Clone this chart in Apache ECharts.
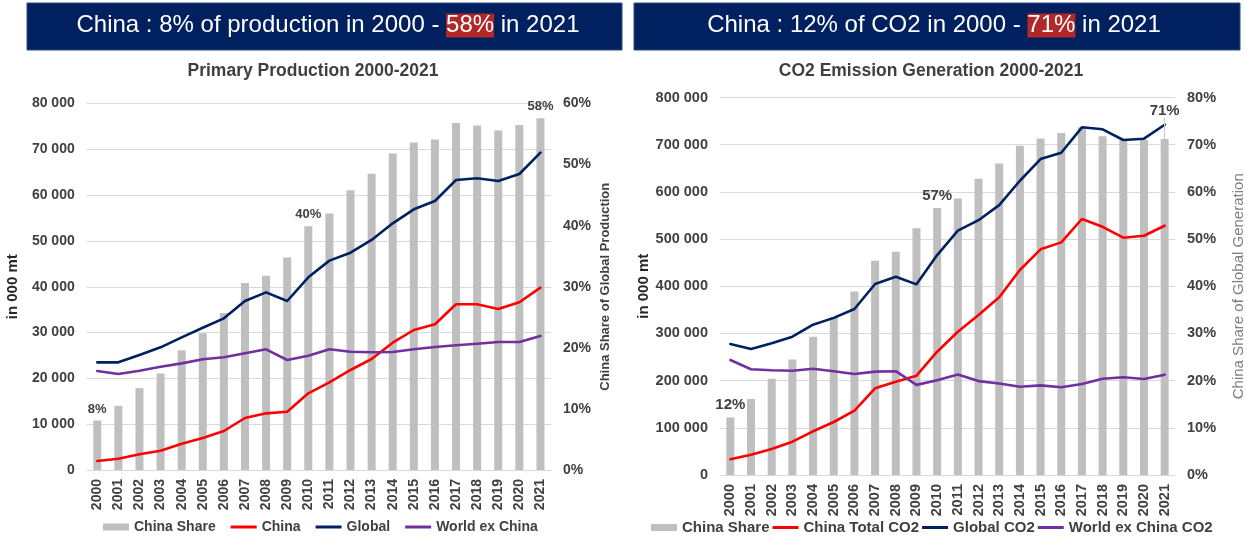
<!DOCTYPE html>
<html>
<head>
<meta charset="utf-8">
<script src="https://cdn.jsdelivr.net/npm/echarts@6/dist/echarts.min.js"></script>
<style>
  html, body { margin: 0; padding: 0; background: #ffffff; }
  #chart { width: 1247px; height: 539px; }
</style>
</head>
<body>
<div id="chart"></div>
<script>
// Years shared by both panels
const years = ['2000','2001','2002','2003','2004','2005','2006','2007','2008','2009','2010',
               '2011','2012','2013','2014','2015','2016','2017','2018','2019','2020','2021'];

// Primary production (in 000 mt) and China's share of it (%)
const prodShare  = [8.1, 10.5, 13.4, 15.8, 19.6, 22.4, 25.7, 30.6, 31.8, 34.8, 39.9, 42.0, 45.8, 48.5, 51.8, 53.6, 54.1, 56.8, 56.4, 55.6, 56.5, 57.6];
const prodChina  = [1960, 2470, 3420, 4220, 5750, 6990, 8510, 11350, 12370, 12730, 16740, 19140, 21830, 24230, 27790, 30560, 31800, 36170, 36170, 35150, 36610, 39800];
const prodGlobal = [23500, 23500, 25100, 26780, 28960, 31060, 33110, 36890, 38780, 36890, 42060, 45700, 47440, 50210, 53850, 56900, 58720, 63300, 63680, 63090, 64610, 69260];
const prodWorldEx = [21610, 20960, 21680, 22550, 23280, 24160, 24600, 25470, 26350, 24010, 24950, 26350, 25820, 25690, 25760, 26350, 26850, 27220, 27570, 27940, 27940, 29250];

// CO2 emission generation (in 000 mt) and China's share of it (%)
const co2Share  = [12.2, 16.1, 20.4, 24.5, 29.3, 33.5, 38.9, 45.4, 47.3, 52.3, 56.6, 58.6, 62.8, 66.0, 69.8, 71.3, 72.5, 73.7, 71.8, 71.0, 71.0, 71.2];
const co2China  = [33300, 43000, 55000, 70600, 92600, 112300, 136300, 183700, 197700, 210400, 261300, 303700, 339000, 376600, 434400, 478300, 493000, 542500, 526000, 502900, 507000, 528300];
const co2Global = [277600, 267000, 279000, 293000, 318500, 333000, 351800, 404700, 420000, 404000, 466000, 517700, 540000, 572000, 623600, 669600, 683000, 736800, 732600, 709900, 712700, 742300];
const co2WorldEx = [243600, 224000, 222000, 221000, 225000, 220000, 214000, 219000, 220000, 191000, 201000, 213000, 199000, 194000, 187000, 190000, 186000, 193000, 204000, 207000, 203500, 212600];

// Years whose share bar carries a value label
const prodLabelled = ['2000', '2010', '2021'];
const co2Labelled  = ['2000', '2010', '2021'];

const FONT = '"Liberation Sans", Arial, sans-serif';
const DARK = '#404040';
const C_BAR = '#BFBFBF', C_RED = '#FF0000', C_NAVY = '#002060', C_PURPLE = '#7030A0';
const LINE_ICON = 'path://M0,0 L26,0 L26,3 L0,3 Z';

const thousands = v => v === 0 ? '0' : String(v).replace(/\B(?=(\d{3})+(?!\d))/g, ' ');

function shareData(values, labelled, fontSize, lastOffset) {
  return values.map((v, i) => {
    if (labelled.indexOf(years[i]) < 0) return v;
    const item = { value: v, label: { show: true, position: 'top', fontSize: fontSize, fontWeight: 'bold',
                   color: DARK, fontFamily: FONT, formatter: p => Math.round(p.value) + '%' } };
    if (i === values.length - 1 && lastOffset) item.label.offset = [0, lastOffset];
    return item;
  });
}

function lineSeries(name, data, color, xi, yi) {
  return { name: name, type: 'line', xAxisIndex: xi, yAxisIndex: yi, data: data,
           symbol: 'none', smooth: false, z: 3,
           lineStyle: { color: color, width: 2.6, join: 'round', cap: 'round' },
           itemStyle: { color: color } };
}

function catAxis(gi, fs) {
  return { type: 'category', gridIndex: gi, data: years, boundaryGap: true,
           axisLine: { show: false }, axisTick: { show: false },
           axisLabel: { rotate: 90, interval: 0, margin: 9, fontSize: fs, fontWeight: 'bold', color: DARK, fontFamily: FONT } };
}

function valAxis(gi, pos, max, interval, fmt, fs, name, nameGap, nameStyle, showSplit) {
  return { type: 'value', gridIndex: gi, position: pos, min: 0, max: max, interval: interval,
           name: name, nameLocation: 'middle', nameGap: nameGap, nameRotate: 90, nameTextStyle: nameStyle,
           axisLine: { show: false }, axisTick: { show: false },
           splitLine: { show: showSplit, lineStyle: { color: '#D9D9D9', width: 1 } },
           axisLabel: { formatter: fmt, margin: 12, fontSize: fs, fontWeight: 'bold', color: DARK, fontFamily: FONT } };
}

function legendItems(names) {
  return names.map((n, i) => i === 0 ? { name: n, icon: 'rect' } : { name: n, icon: LINE_ICON });
}

const bannerRich = {
  a: { color: '#ffffff', fontSize: 24, fontWeight: 'normal', fontFamily: FONT, lineHeight: 27 },
  h: { color: '#ffffff', fontSize: 24, fontWeight: 'normal', fontFamily: FONT, lineHeight: 27, backgroundColor: '#B22727' }
};

const chart = echarts.init(document.getElementById('chart'), null, { renderer: 'canvas' });

chart.setOption({
  animation: false,
  backgroundColor: '#ffffff',
  graphic: [
    { type: 'rect', shape: { x: 27, y: 3, width: 595, height: 47 },
      style: { fill: '#002060', stroke: '#2B4A86', lineWidth: 1 }, z: 0 },
    { type: 'rect', shape: { x: 634, y: 3, width: 606, height: 47 },
      style: { fill: '#002060', stroke: '#2B4A86', lineWidth: 1 }, z: 0 }
  ],
  title: [
    { text: '{a|China : 8% of production in 2000 - }{h|58%}{a| in 2021}', left: 328, top: 12, textAlign: 'center', padding: 0,
      textStyle: { fontWeight: 'normal', rich: bannerRich } },
    { text: '{a|China : 12% of CO2 in 2000 - }{h|71%}{a| in 2021}', left: 934, top: 12, textAlign: 'center', padding: 0,
      textStyle: { fontWeight: 'normal', rich: bannerRich } },
    { text: 'Primary Production 2000-2021', left: 313, top: 62, textAlign: 'center', padding: 0,
      textStyle: { fontSize: 17.5, fontWeight: 'bold', color: DARK, fontFamily: FONT } },
    { text: 'CO2 Emission Generation 2000-2021', left: 931, top: 62, textAlign: 'center', padding: 0,
      textStyle: { fontSize: 17.5, fontWeight: 'bold', color: DARK, fontFamily: FONT } }
  ],
  legend: [
    { data: legendItems(['China Share', 'China', 'Global', 'World ex China']), left: 103, top: 520, padding: 0,
      itemGap: 15, itemWidth: 26, itemHeight: 7,
      textStyle: { fontSize: 14, fontWeight: 'bold', color: DARK, fontFamily: FONT } },
    { data: legendItems(['China Share', 'China Total CO2', 'Global CO2', 'World ex China CO2']), left: 651, top: 520, padding: 0,
      itemGap: 3, itemWidth: 26, itemHeight: 7,
      textStyle: { fontSize: 15, fontWeight: 'bold', color: DARK, fontFamily: FONT } }
  ],
  grid: [
    { left: 86.7, top: 103.5, width: 464.3, height: 366.5 },
    { left: 720, top: 97.5, width: 457.5, height: 377.5 }
  ],
  xAxis: [ catAxis(0, 14), catAxis(1, 14.5) ],
  yAxis: [
    valAxis(0, 'left', 80000, 10000, thousands, 14, 'in 000 mt', 66,
            { fontSize: 15, fontWeight: 'bold', color: '#262626', fontFamily: FONT }, true),
    valAxis(0, 'right', 60, 10, '{value}%', 14, 'China Share of Global Production', 48,
            { fontSize: 13, fontWeight: 'bold', color: DARK, fontFamily: FONT }, false),
    valAxis(1, 'left', 800000, 100000, thousands, 14.5, 'in 000 mt', 56,
            { fontSize: 15, fontWeight: 'bold', color: '#262626', fontFamily: FONT }, true),
    valAxis(1, 'right', 80, 10, '{value}%', 14.5, 'China Share of Global Generation', 56,
            { fontSize: 15, color: '#7F7F7F', fontFamily: FONT }, false)
  ],
  series: [
    { name: 'China Share', type: 'bar', xAxisIndex: 0, yAxisIndex: 1, barWidth: 8, z: 2,
      itemStyle: { color: C_BAR }, data: shareData(prodShare, prodLabelled, 13, 0) },
    lineSeries('China', prodChina, C_RED, 0, 0),
    lineSeries('Global', prodGlobal, C_NAVY, 0, 0),
    lineSeries('World ex China', prodWorldEx, C_PURPLE, 0, 0),

    { name: 'China Share', type: 'bar', xAxisIndex: 1, yAxisIndex: 3, barWidth: 8, z: 2,
      itemStyle: { color: C_BAR }, data: shareData(co2Share, co2Labelled, 15, -16),
      markLine: { silent: true, symbol: 'none', label: { show: false },
        lineStyle: { color: '#C8C8C8', width: 1, type: 'solid' },
        data: [[ { coord: ['2021', co2Share[21]] }, { coord: ['2021', co2Share[21] + 4.5] } ]] } },
    lineSeries('China Total CO2', co2China, C_RED, 1, 2),
    lineSeries('Global CO2', co2Global, C_NAVY, 1, 2),
    lineSeries('World ex China CO2', co2WorldEx, C_PURPLE, 1, 2)
  ]
});
</script>
</body>
</html>
